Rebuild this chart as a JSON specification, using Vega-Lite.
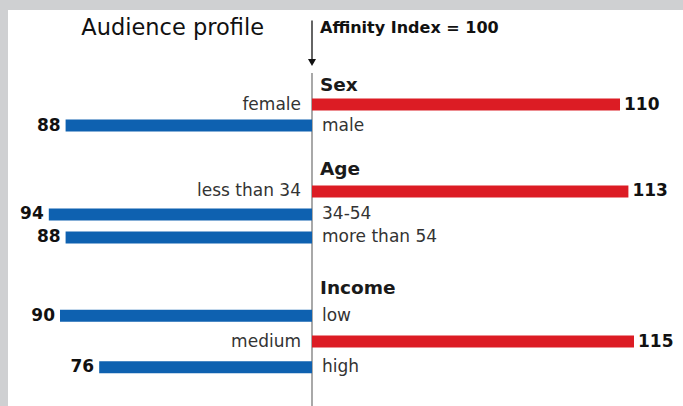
{
  "$schema": "https://vega.github.io/schema/vega-lite/v6.json",
  "background": "#cfd0d2",
  "padding": {"left": 8, "top": 10, "right": 0, "bottom": 0},
  "spacing": 0,
  "bounds": "flush",
  "config": {"view": {"stroke": null, "fill": "#ffffff"}, "text": {"font": "DejaVu Sans"}},
  "datasets": {
    "notes": [
      {"key": "title", "text": "Audience profile"},
      {"key": "index", "text": "Affinity Index = 100"}
    ],
    "heads": [
      {"group": "Sex", "row": "Sex"},
      {"group": "Age", "row": "Age"},
      {"group": "Income", "row": "Income"}
    ],
    "items": [
      {"group": "Sex", "row": "female", "value": 110},
      {"group": "Sex", "row": "male", "value": 88},
      {"group": "Age", "row": "less than 34", "value": 113},
      {"group": "Age", "row": "34-54", "value": 94},
      {"group": "Age", "row": "more than 54", "value": 88},
      {"group": "Income", "row": "low", "value": 90},
      {"group": "Income", "row": "medium", "value": 115},
      {"group": "Income", "row": "high", "value": 76}
    ]
  },
  "vconcat": [
    {
      "width": 675, "height": 63,
      "data": {"name": "notes"},
      "layer": [
        {
          "transform": [{"filter": "datum.key === 'title'"}],
          "mark": {"type": "text", "align": "right", "baseline": "middle", "dx": -48, "dy": 7, "fontSize": 22.5, "color": "#111111"},
          "encoding": {
            "x": {"datum": 0, "type": "quantitative", "scale": {"domain": [-108.57, 132.5], "nice": false}, "axis": null},
            "y": {"datum": "t", "type": "nominal", "scale": {"type": "band", "domain": ["t", "a1", "a2"], "paddingInner": 0, "paddingOuter": 0}, "axis": null},
            "text": {"field": "text"}
          }
        },
        {
          "transform": [{"filter": "datum.key === 'index'"}],
          "mark": {"type": "text", "align": "left", "baseline": "middle", "dx": 8, "dy": 7, "fontSize": 16, "fontWeight": "bold", "color": "#111111"},
          "encoding": {
            "x": {"datum": 0, "type": "quantitative"},
            "y": {"datum": "t", "type": "nominal"},
            "text": {"field": "text"}
          }
        },
        {
          "transform": [{"filter": "datum.key === 'index'"}],
          "mark": {"type": "rule", "color": "#111111", "strokeWidth": 1.3},
          "encoding": {
            "x": {"datum": 0, "type": "quantitative"},
            "y": {"datum": "t", "type": "nominal"},
            "y2": {"datum": "a2"}
          }
        },
        {
          "transform": [{"filter": "datum.key === 'index'"}],
          "mark": {"type": "point", "shape": "triangle-down", "filled": true, "size": 65, "color": "#111111", "opacity": 1},
          "encoding": {
            "x": {"datum": 0, "type": "quantitative"},
            "y": {"datum": "a2", "type": "nominal"}
          }
        }
      ]
    },
    {
      "width": 675, "height": 84,
      "layer": [
        {
          "data": {"name": "heads"},
          "transform": [{"filter": "datum.group === 'Sex'"}],
          "layer": [
            {
              "mark": {"type": "rule", "color": "#8c8c8c", "strokeWidth": 1.5},
              "encoding": {"x": {"datum": 0, "type": "quantitative", "scale": {"domain": [-108.57, 132.5], "nice": false}, "axis": null}}
            },
            {
              "mark": {"type": "text", "align": "left", "baseline": "middle", "dx": 8, "dy": 1, "fontSize": 18.5, "fontWeight": "bold", "color": "#1a1a1a"},
              "encoding": {
                "x": {"datum": 0, "type": "quantitative"},
                "y": {"field": "row", "type": "nominal", "scale": {"type": "band", "domain": ["Sex", "female", "male", "_g"], "paddingInner": 0, "paddingOuter": 0}, "axis": null},
                "text": {"field": "row"}
              }
            }
          ]
        },
        {
          "data": {"name": "items"},
          "transform": [{"filter": "datum.group === 'Sex'"}, {"calculate": "datum.value > 100 ? datum.value : -datum.value", "as": "s"}],
          "encoding": {"y": {"field": "row", "type": "nominal"}},
          "layer": [
            {
              "mark": {"type": "bar", "height": 12},
              "encoding": {
                "x": {"field": "s", "type": "quantitative"},
                "x2": {"datum": 0},
                "color": {"condition": {"test": "datum.value > 100", "value": "#dc1c24"}, "value": "#0e61b0"}
              }
            },
            {
              "transform": [{"filter": "datum.value > 100"}],
              "mark": {"type": "text", "align": "right", "baseline": "middle", "dx": -11, "fontSize": 17, "color": "#333333"},
              "encoding": {"x": {"datum": 0, "type": "quantitative"}, "text": {"field": "row"}}
            },
            {
              "transform": [{"filter": "datum.value < 100"}],
              "mark": {"type": "text", "align": "left", "baseline": "middle", "dx": 10, "fontSize": 17, "color": "#333333"},
              "encoding": {"x": {"datum": 0, "type": "quantitative"}, "text": {"field": "row"}}
            },
            {
              "transform": [{"filter": "datum.value > 100"}],
              "mark": {"type": "text", "align": "left", "baseline": "middle", "dx": 4, "fontSize": 17, "fontWeight": "bold", "color": "#111111"},
              "encoding": {"x": {"field": "s", "type": "quantitative"}, "text": {"field": "value"}}
            },
            {
              "transform": [{"filter": "datum.value < 100"}],
              "mark": {"type": "text", "align": "right", "baseline": "middle", "dx": -5, "fontSize": 17, "fontWeight": "bold", "color": "#111111"},
              "encoding": {"x": {"field": "s", "type": "quantitative"}, "text": {"field": "value"}}
            }
          ]
        }
      ]
    },
    {
      "width": 675, "height": 120,
      "layer": [
        {
          "data": {"name": "heads"},
          "transform": [{"filter": "datum.group === 'Age'"}],
          "layer": [
            {
              "mark": {"type": "rule", "color": "#8c8c8c", "strokeWidth": 1.5},
              "encoding": {"x": {"datum": 0, "type": "quantitative", "scale": {"domain": [-108.57, 132.5], "nice": false}, "axis": null}}
            },
            {
              "mark": {"type": "text", "align": "left", "baseline": "middle", "dx": 8, "dy": 1, "fontSize": 18.5, "fontWeight": "bold", "color": "#1a1a1a"},
              "encoding": {
                "x": {"datum": 0, "type": "quantitative"},
                "y": {"field": "row", "type": "nominal", "scale": {"type": "band", "domain": ["Age", "less than 34", "34-54", "more than 54", "_g"], "paddingInner": 0, "paddingOuter": 0.1087, "align": 0}, "axis": null},
                "text": {"field": "row"}
              }
            }
          ]
        },
        {
          "data": {"name": "items"},
          "transform": [{"filter": "datum.group === 'Age'"}, {"calculate": "datum.value > 100 ? datum.value : -datum.value", "as": "s"}],
          "encoding": {"y": {"field": "row", "type": "nominal"}},
          "layer": [
            {
              "mark": {"type": "bar", "height": 12},
              "encoding": {
                "x": {"field": "s", "type": "quantitative"},
                "x2": {"datum": 0},
                "color": {"condition": {"test": "datum.value > 100", "value": "#dc1c24"}, "value": "#0e61b0"}
              }
            },
            {
              "transform": [{"filter": "datum.value > 100"}],
              "mark": {"type": "text", "align": "right", "baseline": "middle", "dx": -11, "fontSize": 17, "color": "#333333"},
              "encoding": {"x": {"datum": 0, "type": "quantitative"}, "text": {"field": "row"}}
            },
            {
              "transform": [{"filter": "datum.value < 100"}],
              "mark": {"type": "text", "align": "left", "baseline": "middle", "dx": 10, "fontSize": 17, "color": "#333333"},
              "encoding": {"x": {"datum": 0, "type": "quantitative"}, "text": {"field": "row"}}
            },
            {
              "transform": [{"filter": "datum.value > 100"}],
              "mark": {"type": "text", "align": "left", "baseline": "middle", "dx": 4, "fontSize": 17, "fontWeight": "bold", "color": "#111111"},
              "encoding": {"x": {"field": "s", "type": "quantitative"}, "text": {"field": "value"}}
            },
            {
              "transform": [{"filter": "datum.value < 100"}],
              "mark": {"type": "text", "align": "right", "baseline": "middle", "dx": -5, "fontSize": 17, "fontWeight": "bold", "color": "#111111"},
              "encoding": {"x": {"field": "s", "type": "quantitative"}, "text": {"field": "value"}}
            }
          ]
        }
      ]
    },
    {
      "width": 675, "height": 129,
      "layer": [
        {
          "data": {"name": "heads"},
          "transform": [{"filter": "datum.group === 'Income'"}],
          "layer": [
            {
              "mark": {"type": "rule", "color": "#8c8c8c", "strokeWidth": 1.5},
              "encoding": {"x": {"datum": 0, "type": "quantitative", "scale": {"domain": [-108.57, 132.5], "nice": false}, "axis": null}}
            },
            {
              "mark": {"type": "text", "align": "left", "baseline": "middle", "dx": 8, "dy": -2, "fontSize": 18.5, "fontWeight": "bold", "color": "#1a1a1a"},
              "encoding": {
                "x": {"datum": 0, "type": "quantitative"},
                "y": {"field": "row", "type": "nominal", "scale": {"type": "band", "domain": ["Income", "low", "medium", "high", "_g"], "paddingInner": 0, "paddingOuter": 0}, "axis": null},
                "text": {"field": "row"}
              }
            }
          ]
        },
        {
          "data": {"name": "items"},
          "transform": [{"filter": "datum.group === 'Income'"}, {"calculate": "datum.value > 100 ? datum.value : -datum.value", "as": "s"}],
          "encoding": {"y": {"field": "row", "type": "nominal"}},
          "layer": [
            {
              "mark": {"type": "bar", "height": 12},
              "encoding": {
                "x": {"field": "s", "type": "quantitative"},
                "x2": {"datum": 0},
                "color": {"condition": {"test": "datum.value > 100", "value": "#dc1c24"}, "value": "#0e61b0"}
              }
            },
            {
              "transform": [{"filter": "datum.value > 100"}],
              "mark": {"type": "text", "align": "right", "baseline": "middle", "dx": -11, "fontSize": 17, "color": "#333333"},
              "encoding": {"x": {"datum": 0, "type": "quantitative"}, "text": {"field": "row"}}
            },
            {
              "transform": [{"filter": "datum.value < 100"}],
              "mark": {"type": "text", "align": "left", "baseline": "middle", "dx": 10, "fontSize": 17, "color": "#333333"},
              "encoding": {"x": {"datum": 0, "type": "quantitative"}, "text": {"field": "row"}}
            },
            {
              "transform": [{"filter": "datum.value > 100"}],
              "mark": {"type": "text", "align": "left", "baseline": "middle", "dx": 4, "fontSize": 17, "fontWeight": "bold", "color": "#111111"},
              "encoding": {"x": {"field": "s", "type": "quantitative"}, "text": {"field": "value"}}
            },
            {
              "transform": [{"filter": "datum.value < 100"}],
              "mark": {"type": "text", "align": "right", "baseline": "middle", "dx": -5, "fontSize": 17, "fontWeight": "bold", "color": "#111111"},
              "encoding": {"x": {"field": "s", "type": "quantitative"}, "text": {"field": "value"}}
            }
          ]
        }
      ]
    }
  ]
}
